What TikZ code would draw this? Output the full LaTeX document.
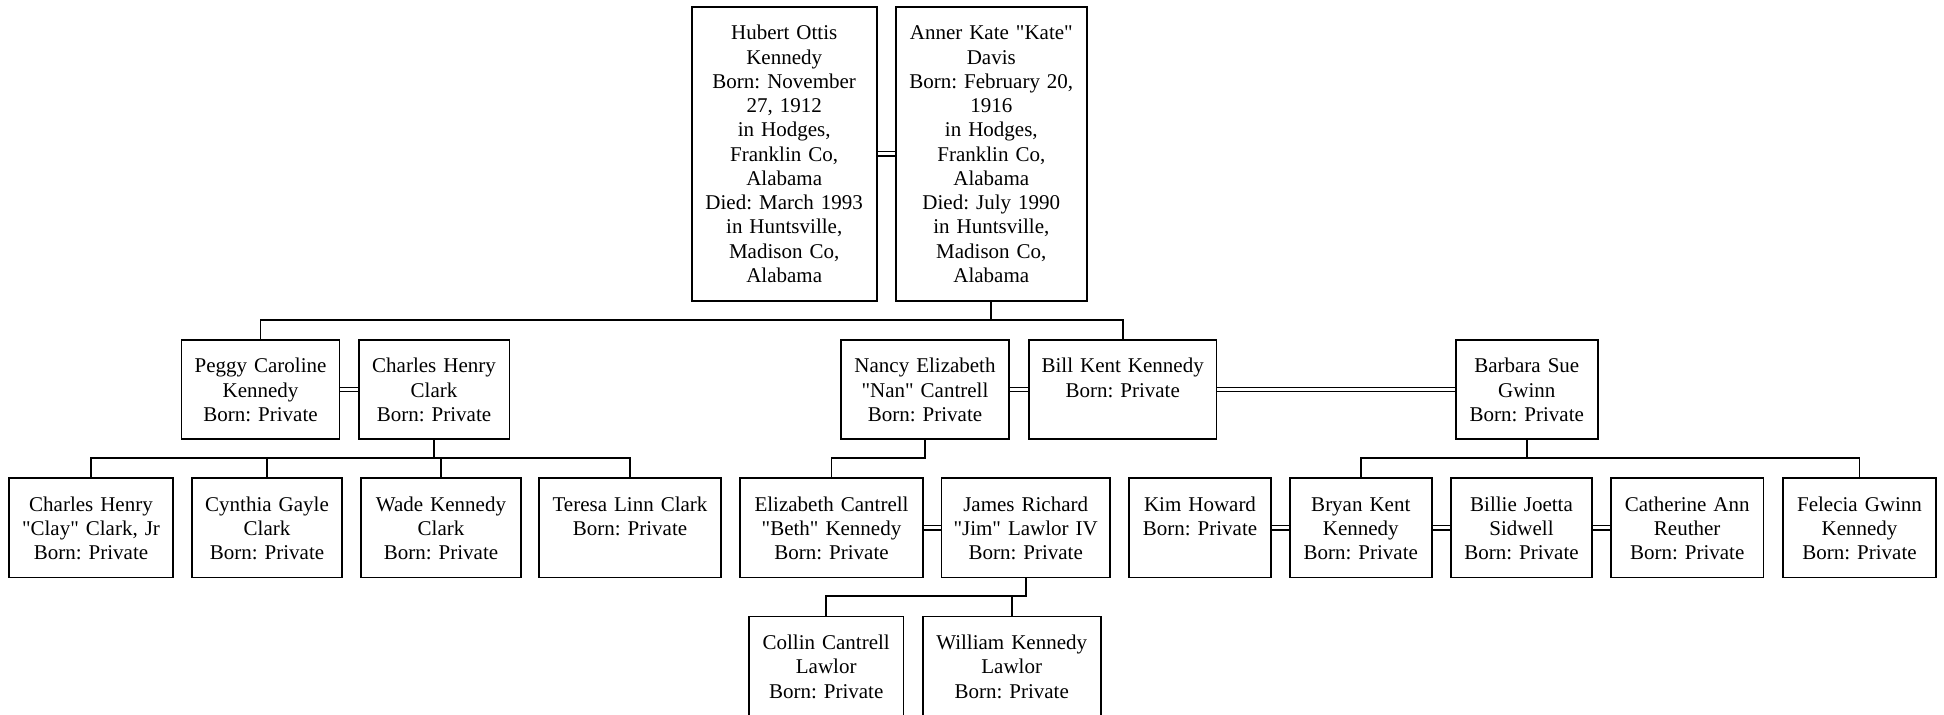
\documentclass[tikz,border=0pt]{standalone}
\usepackage{fontspec}
\setmainfont{Liberation Serif}[Ligatures=TeXOff]
\frenchspacing

\begin{document}
\begin{tikzpicture}[x=0.5pt, y=-0.5pt,
  person/.style={draw, line width=0.85pt, inner sep=0pt, anchor=north, align=center,
    text width=#1, text height=16.5pt, text depth=33.25pt,
    font=\fontsize{10.5}{12.13}\selectfont},
  wed/.style={double, double distance=1.6pt, line width=0.65pt},
  kin/.style={line width=0.85pt}]

\useasboundingbox (0,0) rectangle (1944,715);

\node[person=92.5pt, text depth=130.5pt] (hubert) at (784.2,6) {Hubert Ottis\\Kennedy\\Born: November\\27, 1912\\in Hodges,\\Franklin Co,\\Alabama\\Died: March 1993\\in Huntsville,\\Madison Co,\\Alabama};
\node[person=95.35pt, text depth=130.5pt] (kate) at (991.3,6) {Anner Kate "Kate"\\Davis\\Born: February 20,\\1916\\in Hodges,\\Franklin Co,\\Alabama\\Died: July 1990\\in Huntsville,\\Madison Co,\\Alabama};

\node[person=79.1pt] (peggy) at (260.5,339) {Peggy Caroline\\Kennedy\\Born: Private};
\node[person=75.35pt] (charles) at (434,339) {Charles Henry\\Clark\\Born: Private};
\node[person=84.3pt] (nancy) at (925,339) {Nancy Elizabeth\\"Nan" Cantrell\\Born: Private};
\node[person=93.65pt] (bill) at (1122.7,339) {Bill Kent Kennedy\\Born: Private};
\node[person=70.85pt] (barbara) at (1526.8,339) {Barbara Sue\\Gwinn\\Born: Private};

\node[person=82pt] (clay) at (91,477.2) {Charles Henry\\"Clay" Clark, Jr\\Born: Private};
\node[person=75.3pt] (cynthia) at (267,477.2) {Cynthia Gayle\\Clark\\Born: Private};
\node[person=80pt] (wade) at (441,477.2) {Wade Kennedy\\Clark\\Born: Private};
\node[person=91.2pt] (teresa) at (630,477.2) {Teresa Linn Clark\\Born: Private};
\node[person=91.2pt] (beth) at (831.5,477.2) {Elizabeth Cantrell\\"Beth" Kennedy\\Born: Private};
\node[person=84.35pt] (jim) at (1025.7,477.2) {James Richard\\"Jim" Lawlor IV\\Born: Private};
\node[person=70.7pt] (kim) at (1200,477.2) {Kim Howard\\Born: Private};
\node[person=70.85pt] (bryan) at (1360.8,477.2) {Bryan Kent\\Kennedy\\Born: Private};
\node[person=70.8pt] (billie) at (1521.5,477.2) {Billie Joetta\\Sidwell\\Born: Private};
\node[person=76.15pt] (catherine) at (1687.2,477.2) {Catherine Ann\\Reuther\\Born: Private};
\node[person=76.2pt] (felecia) at (1859.5,477.2) {Felecia Gwinn\\Kennedy\\Born: Private};

\node[person=77.15pt] (collin) at (826.2,615.7) {Collin Cantrell\\Lawlor\\Born: Private};
\node[person=89pt] (william) at (1011.7,615.7) {William Kennedy\\Lawlor\\Born: Private};

% marriages
\draw[wed] (hubert.east) -- (kate.west);
\draw[wed] (peggy.east) -- (charles.west);
\draw[wed] (nancy.east) -- (bill.west);
\draw[wed] (bill.east) -- (barbara.west);
\draw[wed] (beth.east) -- (jim.west);
\draw[wed] (kim.east) -- (bryan.west);
\draw[wed] (bryan.east) -- (billie.west);
\draw[wed] (billie.east) -- (catherine.west);

% children
\coordinate (kennedybus) at (991.3,320);
\coordinate (clarkbus) at (434,458);
\coordinate (cantrellbus) at (925,458);
\coordinate (gwinnbus) at (1526.8,458);
\coordinate (lawlorbus) at (1025.7,596);

\draw[kin] (kate.south) -- (kennedybus);
\draw[kin] (peggy.north) |- (kennedybus) -| (bill.north);

\draw[kin] (charles.south) -- (clarkbus);
\draw[kin] (clay.north) |- (clarkbus) -| (teresa.north);
\draw[kin] (cynthia.north) -- (cynthia.north |- clarkbus);
\draw[kin] (wade.north) -- (wade.north |- clarkbus);

\draw[kin] (nancy.south) -- (cantrellbus) -| (beth.north);

\draw[kin] (barbara.south) -- (gwinnbus);
\draw[kin] (bryan.north) |- (gwinnbus) -| (felecia.north);

\draw[kin] (jim.south) -- (lawlorbus) -| (collin.north);
\draw[kin] (william.north) -- (william.north |- lawlorbus);
\end{tikzpicture}
\end{document}
